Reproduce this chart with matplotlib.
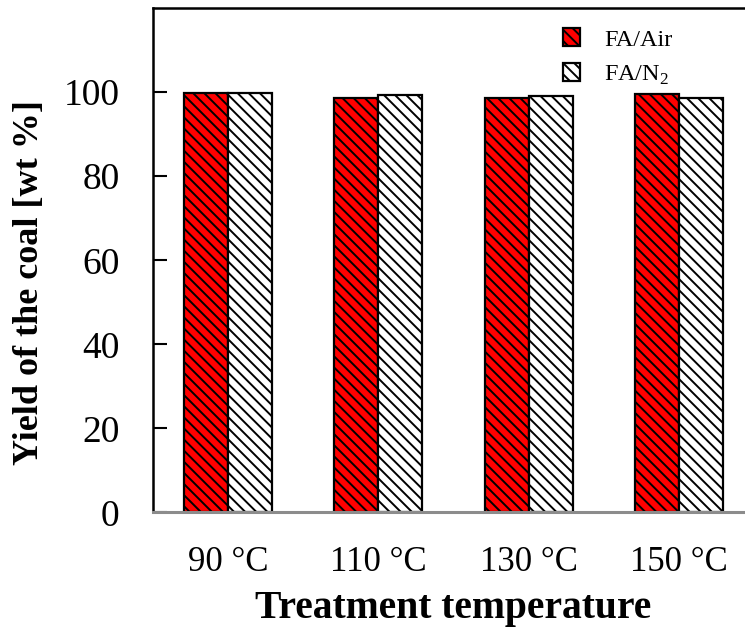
import matplotlib
matplotlib.use("Agg")
import matplotlib.pyplot as plt
import numpy as np

plt.rcParams['font.family'] = ['Liberation Serif', 'DejaVu Serif']
plt.rcParams['mathtext.fontset'] = 'custom'
plt.rcParams['mathtext.rm'] = 'Liberation Serif'
plt.rcParams['hatch.linewidth'] = 1.4
plt.rcParams['hatch.color'] = 'black'

categories = ['90 °C', '110 °C', '130 °C', '150 °C']
fa_air = [99.9, 98.7, 98.7, 99.6]
fa_n2 = [99.9, 99.2, 99.1, 98.7]
series_labels = ['FA/Air', 'FA/N$_2$']
y_ticks = [0, 20, 40, 60, 80, 100]

fig = plt.figure(figsize=(7.45, 6.31), dpi=100)
ax = fig.add_axes([153 / 745, 0.1878, (754 - 153) / 745, 0.9873 - 0.1878])

x = np.arange(len(categories))
w = 0.293
ax.bar(x - w / 2, fa_air, w, color='#ff0000', edgecolor='black', linewidth=1.6,
       hatch='\\\\\\', label=series_labels[0])
ax.bar(x + w / 2, fa_n2, w, color='white', edgecolor='black', linewidth=1.6,
       hatch='\\\\\\', label=series_labels[1])

ax.set_xlim(-0.5, 3.5)
ax.set_ylim(0, 120)
ax.set_yticks(y_ticks)
ax.set_xticks(x)
ax.set_xticklabels(categories, fontsize=25)
ax.tick_params(axis='y', direction='in', length=10, width=1.5, labelsize=27, pad=24)
ax.tick_params(axis='x', length=0, pad=24)

ax.spines['right'].set_visible(False)
ax.spines['left'].set_linewidth(1.8)
ax.spines['top'].set_linewidth(1.8)
ax.spines['bottom'].set_color('#8c8c8c')
ax.spines['bottom'].set_linewidth(2.2)

ax.set_ylabel('Yield of the coal [wt %]', fontsize=26, fontweight='bold')
ax.yaxis.set_label_coords(-0.178, 0.455)
ax.set_xlabel('Treatment temperature', fontsize=28.5, fontweight='bold', labelpad=8)

leg = ax.legend(loc='upper left', bbox_to_anchor=(0.645, 1.004), frameon=False,
                fontsize=17.5, handlelength=0.7, handleheight=0.8, handletextpad=1.0,
                labelspacing=0.5)

fig.savefig('out.png', dpi=100)
